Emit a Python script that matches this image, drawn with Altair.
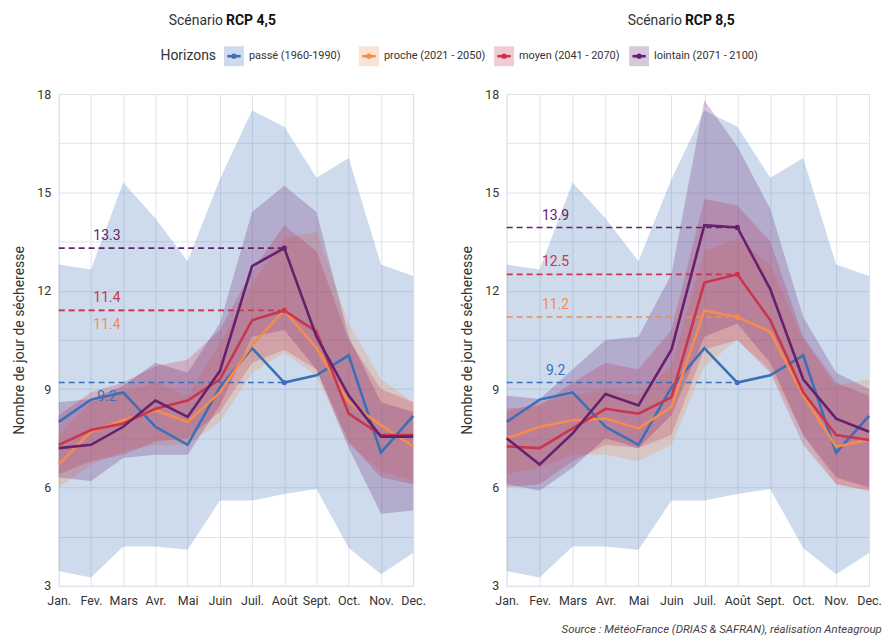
import altair as alt
import pandas as pd

months = ["Jan.", "Fev.", "Mars", "Avr.", "Mai", "Juin", "Juil.", "Août", "Sept.", "Oct.", "Nov.", "Dec."]
horizons = ["passé (1960-1990)", "proche (2021 - 2050)", "moyen (2041 - 2070)", "lointain (2071 - 2100)"]
colors = ["#3b70b8", "#f58b4c", "#c9354e", "#66216e"]
scenarios = ["RCP 4,5", "RCP 8,5"]

# passé (identique pour les deux scénarios)
passe_mean = [8.0, 8.68, 8.9, 7.85, 7.3, 9.05, 10.25, 9.2, 9.42, 10.03, 7.06, 8.18]
passe_low = [3.45, 3.25, 4.2, 4.2, 4.1, 5.6, 5.6, 5.8, 5.95, 4.15, 3.35, 4.0]
passe_high = [12.8, 12.65, 15.3, 14.2, 12.9, 15.4, 17.5, 17.0, 15.45, 16.05, 12.8, 12.45]

# RCP 4,5
rcp45_proche_mean = [6.7, 7.7, 8.05, 8.35, 8.0, 8.9, 10.35, 11.4, 10.25, 8.6, 7.9, 7.25]
rcp45_proche_low = [6.0, 6.7, 7.1, 7.3, 7.3, 8.0, 9.5, 10.1, 9.4, 7.3, 6.5, 6.2]
rcp45_proche_high = [7.6, 8.6, 8.9, 9.2, 8.8, 10.4, 12.2, 13.6, 13.8, 11.0, 9.3, 8.6]
rcp45_moyen_mean = [7.3, 7.75, 7.95, 8.4, 8.65, 9.3, 11.1, 11.4, 10.75, 8.25, 7.6, 7.6]
rcp45_moyen_low = [6.4, 6.8, 7.0, 7.4, 7.5, 8.3, 9.8, 10.2, 9.6, 7.4, 6.3, 6.1]
rcp45_moyen_high = [8.2, 8.9, 9.2, 9.7, 9.9, 10.8, 12.6, 14.0, 13.2, 10.5, 9.0, 8.6]
rcp45_lointain_mean = [7.2, 7.3, 7.85, 8.65, 8.15, 9.55, 12.75, 13.3, 10.6, 8.8, 7.55, 7.55]
rcp45_lointain_low = [6.3, 6.2, 6.9, 7.0, 7.0, 8.5, 10.6, 10.8, 9.6, 7.2, 5.2, 5.3]
rcp45_lointain_high = [8.6, 8.7, 9.1, 9.8, 9.5, 11.0, 14.4, 15.2, 14.4, 10.6, 8.6, 8.3]

# RCP 8,5
rcp85_proche_mean = [7.5, 7.85, 8.05, 8.1, 7.8, 8.45, 11.4, 11.2, 10.75, 8.8, 7.25, 7.45]
rcp85_proche_low = [6.4, 6.6, 7.0, 7.0, 6.8, 7.3, 9.7, 10.5, 9.6, 7.6, 6.1, 5.9]
rcp85_proche_high = [8.3, 8.6, 8.8, 9.0, 8.8, 9.7, 13.2, 13.6, 12.8, 10.5, 9.1, 9.3]
rcp85_moyen_mean = [7.25, 7.2, 7.8, 8.4, 8.25, 8.75, 12.25, 12.5, 11.1, 8.9, 7.6, 7.45]
rcp85_moyen_low = [6.0, 6.1, 6.8, 7.3, 7.2, 7.6, 10.2, 10.5, 9.5, 7.3, 6.1, 5.9]
rcp85_moyen_high = [8.4, 8.5, 9.2, 9.8, 9.6, 10.8, 14.8, 14.6, 13.5, 10.6, 9.2, 8.8]
rcp85_lointain_mean = [7.5, 6.7, 7.65, 8.85, 8.5, 10.2, 14.0, 13.93, 12.05, 9.3, 8.1, 7.7]
rcp85_lointain_low = [6.1, 5.9, 6.6, 7.5, 7.2, 8.2, 10.6, 11.0, 9.8, 7.6, 6.3, 6.0]
rcp85_lointain_high = [8.8, 8.7, 9.6, 10.5, 10.6, 12.5, 17.8, 16.4, 14.5, 11.2, 9.5, 9.0]

# position of each August label relative to its dashed line
label_side_45 = ["below", "below", "above", "above"]
label_side_85 = ["above", "above", "above", "above"]

series = {
    "RCP 4,5": [
        (passe_mean, passe_low, passe_high),
        (rcp45_proche_mean, rcp45_proche_low, rcp45_proche_high),
        (rcp45_moyen_mean, rcp45_moyen_low, rcp45_moyen_high),
        (rcp45_lointain_mean, rcp45_lointain_low, rcp45_lointain_high),
    ],
    "RCP 8,5": [
        (passe_mean, passe_low, passe_high),
        (rcp85_proche_mean, rcp85_proche_low, rcp85_proche_high),
        (rcp85_moyen_mean, rcp85_moyen_low, rcp85_moyen_high),
        (rcp85_lointain_mean, rcp85_lointain_low, rcp85_lointain_high),
    ],
}
sides = {"RCP 4,5": label_side_45, "RCP 8,5": label_side_85}

rows, refs = [], []
for scn in scenarios:
    for hi, h in enumerate(horizons):
        m, lo, hg = series[scn][hi]
        for mi, mo in enumerate(months):
            rows.append({"scenario": scn, "horizon": h, "month": mo,
                         "value": m[mi], "low": lo[mi], "high": hg[mi]})
        aug = m[months.index("Août")]
        refs.append({"scenario": scn, "horizon": h, "value": aug,
                     "label": f"{aug:.1f}", "side": sides[scn][hi]})
df = pd.DataFrame(rows)
ref_df = pd.DataFrame(refs)

FONT = "Roboto"
TXT = "#333333"

color = alt.Color("horizon:N", scale=alt.Scale(domain=horizons, range=colors), legend=None)
xenc = alt.X("month:N", sort=months,
             scale=alt.Scale(type="point", domain=months, padding=0),
             axis=alt.Axis(title=None, grid=True, ticks=False, domain=False,
                           labelAngle=0, labelPadding=9, labelFontSize=12.5,
                           labelColor=TXT, gridColor="#dfe3ea", labelFont=FONT))
yaxis = alt.Axis(title="Nombre de jour de sécheresse", values=[3 + 1.5 * i for i in range(11)],
                 labelExpr="datum.value % 3 == 0 ? datum.label : ''",
                 ticks=False, domain=False, grid=True, gridColor="#dfe3ea",
                 labelPadding=8, labelFontSize=12.5, labelColor=TXT, labelFont=FONT,
                 titleFontSize=14, titleFontWeight="normal", titleColor=TXT,
                 titlePadding=10, titleFont=FONT)
yscale = alt.Scale(domain=[3, 18], nice=False, zero=False)


def panel(scn, width):
    d = df[df.scenario == scn]
    r = ref_df[ref_df.scenario == scn]
    layers = []
    for h in horizons:
        sub = d[d.horizon == h]
        layers.append(alt.Chart(sub).mark_area(opacity=0.25).encode(
            x=xenc, y=alt.Y("low:Q", scale=yscale, axis=yaxis), y2="high:Q", color=color))
    layers.append(alt.Chart(r).mark_rule(strokeDash=[6, 4], strokeWidth=1.6).encode(
        x=alt.datum("Jan."), x2=alt.datum("Août"),
        y=alt.Y("value:Q", scale=yscale, axis=yaxis), color=color))
    for side, dy in (("above", -12), ("below", 15)):
        layers.append(alt.Chart(r).transform_filter(alt.datum.side == side).mark_text(
            dx=16, dy=dy, fontSize=14, font=FONT, align="center", baseline="middle").encode(
            x=alt.datum("Fev."), y=alt.Y("value:Q", scale=yscale, axis=yaxis),
            text="label:N", color=color))
    for h in horizons:
        sub = d[d.horizon == h]
        layers.append(alt.Chart(sub).mark_line(strokeWidth=2.6).encode(
            x=xenc, y=alt.Y("value:Q", scale=yscale, axis=yaxis), color=color))
    layers.append(alt.Chart(d).transform_filter(alt.datum.month == "Août").mark_circle(
        size=28, opacity=1).encode(
        x=xenc, y=alt.Y("value:Q", scale=yscale, axis=yaxis), color=color))
    return alt.layer(*layers).properties(width=width, height=494)


left = panel("RCP 4,5", 356)
right = panel("RCP 8,5", 364)

# Header: scenario titles and legend (coordinates relative to the left plot origin)
one = pd.DataFrame({"k": [0]})
leg = pd.DataFrame({"horizon": horizons})
hx = alt.X("horizon:N", sort=horizons,
           scale=alt.Scale(type="point", domain=horizons, range=[176, 583], padding=0), axis=None)
LY = 47
header_layers = [
    alt.Chart(one).mark_text(text="Scénario", align="right", fontSize=14, font=FONT, color=TXT)
    .encode(x=alt.value(165), y=alt.value(12)),
    alt.Chart(one).mark_text(text="RCP 4,5", align="left", fontSize=14, font=FONT,
                             fontWeight="bold", color="#111")
    .encode(x=alt.value(168), y=alt.value(12)),
    alt.Chart(one).mark_text(text="Scénario", align="right", fontSize=14, font=FONT, color=TXT)
    .encode(x=alt.value(626), y=alt.value(12)),
    alt.Chart(one).mark_text(text="RCP 8,5", align="left", fontSize=14, font=FONT,
                             fontWeight="bold", color="#111")
    .encode(x=alt.value(629), y=alt.value(12)),
    alt.Chart(one).mark_text(text="Horizons", align="right", fontSize=14, font=FONT, color=TXT)
    .encode(x=alt.value(158), y=alt.value(LY)),
    alt.Chart(leg).mark_square(size=400, opacity=0.25).encode(x=hx, y=alt.value(LY), color=color),
    alt.Chart(leg).mark_point(shape="M-1,0L1,0", size=180, strokeWidth=2.6, filled=False, opacity=1)
    .encode(x=hx, y=alt.value(LY), color=color),
    alt.Chart(leg).mark_circle(size=28, opacity=1).encode(x=hx, y=alt.value(LY), color=color),
    alt.Chart(leg).mark_text(align="left", dx=15, fontSize=11, font=FONT, color=TXT)
    .encode(x=hx, y=alt.value(LY), text="horizon:N"),
]
header = alt.layer(*header_layers).properties(
    width=720, height=60, view=alt.ViewBackground(stroke=None))

chart = alt.vconcat(
    header,
    alt.hconcat(left, right, spacing=34),
    spacing=18,
).properties(
    padding={"left": 4, "top": 0, "right": 0, "bottom": 0},
    title=alt.Title("Source : MétéoFrance (DRIAS & SAFRAN), réalisation Anteagroup",
                    orient="bottom", anchor="end", fontSize=11.5, fontStyle="italic",
                    fontWeight="normal", color="#444", font=FONT, offset=16),
).configure_view(stroke="#cfcfcf").configure(font=FONT, background="white")

chart.save("out.html", embed_options={"renderer": "svg", "actions": False})
